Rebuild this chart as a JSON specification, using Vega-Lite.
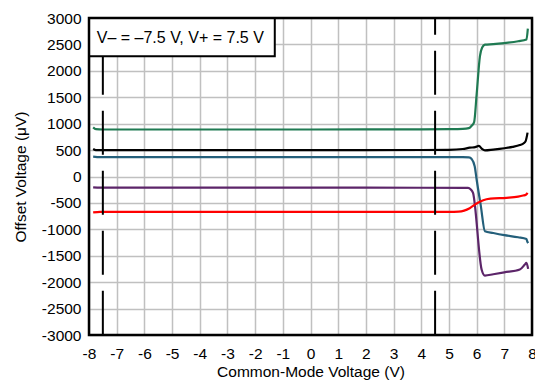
{
  "$schema": "https://vega.github.io/schema/vega-lite/v6.json",
  "width": 443,
  "height": 317,
  "autosize": {"type": "none"},
  "padding": {"left": 89, "top": 18, "right": 3, "bottom": 46},
  "background": "white",
  "config": {
    "view": {"stroke": null},
    "font": "Liberation Sans",
    "axis": {
      "domain": false,
      "ticks": false,
      "grid": true,
      "gridColor": "#c0c0c0",
      "gridWidth": 1.5,
      "labelOverlap": false,
      "labelFlush": false,
      "labelBound": false,
      "labelFont": "Liberation Sans",
      "labelFontSize": 15.5,
      "labelColor": "black",
      "titleFont": "Liberation Sans",
      "titleFontSize": 15.5,
      "titleFontWeight": "normal",
      "titleColor": "black"
    },
    "axisX": {"labelPadding": 11, "titlePadding": 3},
    "axisY": {"labelPadding": 8, "titlePadding": 13}
  },
  "datasets": {
    "curves": [
      {"cmv": -7.85, "vos": 930, "series": "A"},
      {"cmv": -7.75, "vos": 895, "series": "A"},
      {"cmv": -7.5, "vos": 890, "series": "A"},
      {"cmv": -5, "vos": 890, "series": "A"},
      {"cmv": 0, "vos": 890, "series": "A"},
      {"cmv": 4, "vos": 892, "series": "A"},
      {"cmv": 5, "vos": 895, "series": "A"},
      {"cmv": 5.5, "vos": 900, "series": "A"},
      {"cmv": 5.72, "vos": 915, "series": "A"},
      {"cmv": 5.82, "vos": 960, "series": "A"},
      {"cmv": 5.91, "vos": 1030, "series": "A"},
      {"cmv": 6.0, "vos": 1550, "series": "A"},
      {"cmv": 6.12, "vos": 2280, "series": "A"},
      {"cmv": 6.2, "vos": 2440, "series": "A"},
      {"cmv": 6.3, "vos": 2495, "series": "A"},
      {"cmv": 6.6, "vos": 2505, "series": "A"},
      {"cmv": 7.0, "vos": 2525, "series": "A"},
      {"cmv": 7.5, "vos": 2560, "series": "A"},
      {"cmv": 7.8, "vos": 2595, "series": "A"},
      {"cmv": 7.85, "vos": 2800, "series": "A"},

      {"cmv": -7.85, "vos": 520, "series": "B"},
      {"cmv": -7.75, "vos": 500, "series": "B"},
      {"cmv": -5, "vos": 500, "series": "B"},
      {"cmv": 0, "vos": 500, "series": "B"},
      {"cmv": 4, "vos": 502, "series": "B"},
      {"cmv": 5, "vos": 505, "series": "B"},
      {"cmv": 5.5, "vos": 520, "series": "B"},
      {"cmv": 5.75, "vos": 545, "series": "B"},
      {"cmv": 5.95, "vos": 555, "series": "B"},
      {"cmv": 6.08, "vos": 580, "series": "B"},
      {"cmv": 6.2, "vos": 520, "series": "B"},
      {"cmv": 6.3, "vos": 495, "series": "B"},
      {"cmv": 6.6, "vos": 510, "series": "B"},
      {"cmv": 7.0, "vos": 535, "series": "B"},
      {"cmv": 7.3, "vos": 560, "series": "B"},
      {"cmv": 7.56, "vos": 595, "series": "B"},
      {"cmv": 7.7, "vos": 630, "series": "B"},
      {"cmv": 7.77, "vos": 670, "series": "B"},
      {"cmv": 7.84, "vos": 830, "series": "B"},

      {"cmv": -7.85, "vos": 375, "series": "C"},
      {"cmv": -7.6, "vos": 365, "series": "C"},
      {"cmv": 0, "vos": 365, "series": "C"},
      {"cmv": 4, "vos": 366, "series": "C"},
      {"cmv": 5.5, "vos": 366, "series": "C"},
      {"cmv": 5.72, "vos": 362, "series": "C"},
      {"cmv": 5.82, "vos": 330, "series": "C"},
      {"cmv": 5.93, "vos": 195, "series": "C"},
      {"cmv": 6.0, "vos": -57, "series": "C"},
      {"cmv": 6.15, "vos": -550, "series": "C"},
      {"cmv": 6.3, "vos": -1036, "series": "C"},
      {"cmv": 6.6, "vos": -1070, "series": "C"},
      {"cmv": 7.0, "vos": -1110, "series": "C"},
      {"cmv": 7.5, "vos": -1150, "series": "C"},
      {"cmv": 7.8, "vos": -1185, "series": "C"},
      {"cmv": 7.83, "vos": -1230, "series": "C"},
      {"cmv": 7.86, "vos": -1260, "series": "C"},

      {"cmv": -7.85, "vos": -205, "series": "D"},
      {"cmv": -7.6, "vos": -212, "series": "D"},
      {"cmv": 0, "vos": -212, "series": "D"},
      {"cmv": 4, "vos": -213, "series": "D"},
      {"cmv": 5.5, "vos": -214, "series": "D"},
      {"cmv": 5.69, "vos": -216, "series": "D"},
      {"cmv": 5.78, "vos": -240, "series": "D"},
      {"cmv": 5.87, "vos": -310, "series": "D"},
      {"cmv": 6.18, "vos": -1761, "series": "D"},
      {"cmv": 6.3, "vos": -1875, "series": "D"},
      {"cmv": 6.6, "vos": -1850, "series": "D"},
      {"cmv": 7.0, "vos": -1815, "series": "D"},
      {"cmv": 7.56, "vos": -1761, "series": "D"},
      {"cmv": 7.74, "vos": -1667, "series": "D"},
      {"cmv": 7.8, "vos": -1634, "series": "D"},
      {"cmv": 7.86, "vos": -1748, "series": "D"},

      {"cmv": -7.85, "vos": -680, "series": "E"},
      {"cmv": -7.6, "vos": -670, "series": "E"},
      {"cmv": 0, "vos": -670, "series": "E"},
      {"cmv": 5.0, "vos": -668, "series": "E"},
      {"cmv": 5.35, "vos": -664, "series": "E"},
      {"cmv": 5.55, "vos": -645, "series": "E"},
      {"cmv": 5.75, "vos": -600, "series": "E"},
      {"cmv": 6.0, "vos": -511, "series": "E"},
      {"cmv": 6.24, "vos": -449, "series": "E"},
      {"cmv": 6.5, "vos": -420, "series": "E"},
      {"cmv": 7.08, "vos": -403, "series": "E"},
      {"cmv": 7.5, "vos": -380, "series": "E"},
      {"cmv": 7.68, "vos": -360, "series": "E"},
      {"cmv": 7.78, "vos": -345, "series": "E"},
      {"cmv": 7.84, "vos": -309, "series": "E"}
    ],
    "limits": [{"cm": -7.5}, {"cm": 4.5}],
    "note": [{"x1": -8, "x2": -1.29, "y1": 3000, "y2": 2278, "tx": -7.72, "ty": 2630, "text": "V– = –7.5 V, V+ = 7.5 V"}],
    "frame": [{"x1": -8, "x2": 8, "y1": -3000, "y2": 3000}]
  },
  "layer": [
    {
      "data": {"name": "curves"},
      "mark": {"type": "line", "strokeWidth": 2.2, "interpolate": "monotone"},
      "encoding": {
        "x": {
          "field": "cmv", "type": "quantitative",
          "scale": {"domain": [-8, 8], "nice": false},
          "axis": {"values": [-8,-7,-6,-5,-4,-3,-2,-1,0,1,2,3,4,5,6,7,8], "tickCount": 40, "format": "d", "title": "Common-Mode Voltage (V)", "labelExpr": "replace(datum.label, '−', '-')"}
        },
        "y": {
          "field": "vos", "type": "quantitative",
          "scale": {"domain": [-3000, 3000], "nice": false},
          "axis": {"values": [-3000,-2500,-2000,-1500,-1000,-500,0,500,1000,1500,2000,2500,3000], "tickCount": 30, "title": "Offset Voltage (μV)", "format": "d", "labelExpr": "replace(datum.label, '−', '-')"}
        },
        "color": {
          "field": "series", "type": "nominal",
          "scale": {"domain": ["A", "B", "C", "D", "E"], "range": ["#1f7a52", "#000000", "#245f7a", "#5c2569", "#ff0000"]},
          "legend": null
        }
      }
    },
    {
      "data": {"name": "limits"},
      "mark": {"type": "rule", "color": "black", "strokeWidth": 2, "strokeDash": [44, 16], "strokeDashOffset": 27.3},
      "encoding": {
        "x": {"field": "cm", "type": "quantitative"},
        "y": {"datum": 3000, "type": "quantitative"},
        "y2": {"datum": -3000}
      }
    },
    {
      "data": {"name": "note"},
      "mark": {"type": "rect", "fill": "white", "stroke": "black", "strokeWidth": 2},
      "encoding": {
        "x": {"field": "x1", "type": "quantitative"},
        "x2": {"field": "x2"},
        "y": {"field": "y1", "type": "quantitative"},
        "y2": {"field": "y2"}
      }
    },
    {
      "data": {"name": "note"},
      "mark": {"type": "text", "align": "left", "baseline": "middle", "fontSize": 16, "font": "Liberation Sans", "color": "black"},
      "encoding": {
        "x": {"field": "tx", "type": "quantitative"},
        "y": {"field": "ty", "type": "quantitative"},
        "text": {"field": "text"}
      }
    },
    {
      "data": {"name": "frame"},
      "mark": {"type": "rect", "fill": null, "fillOpacity": 0, "stroke": "black", "strokeWidth": 2.5},
      "encoding": {
        "x": {"field": "x1", "type": "quantitative"},
        "x2": {"field": "x2"},
        "y": {"field": "y1", "type": "quantitative"},
        "y2": {"field": "y2"}
      }
    }
  ]
}
